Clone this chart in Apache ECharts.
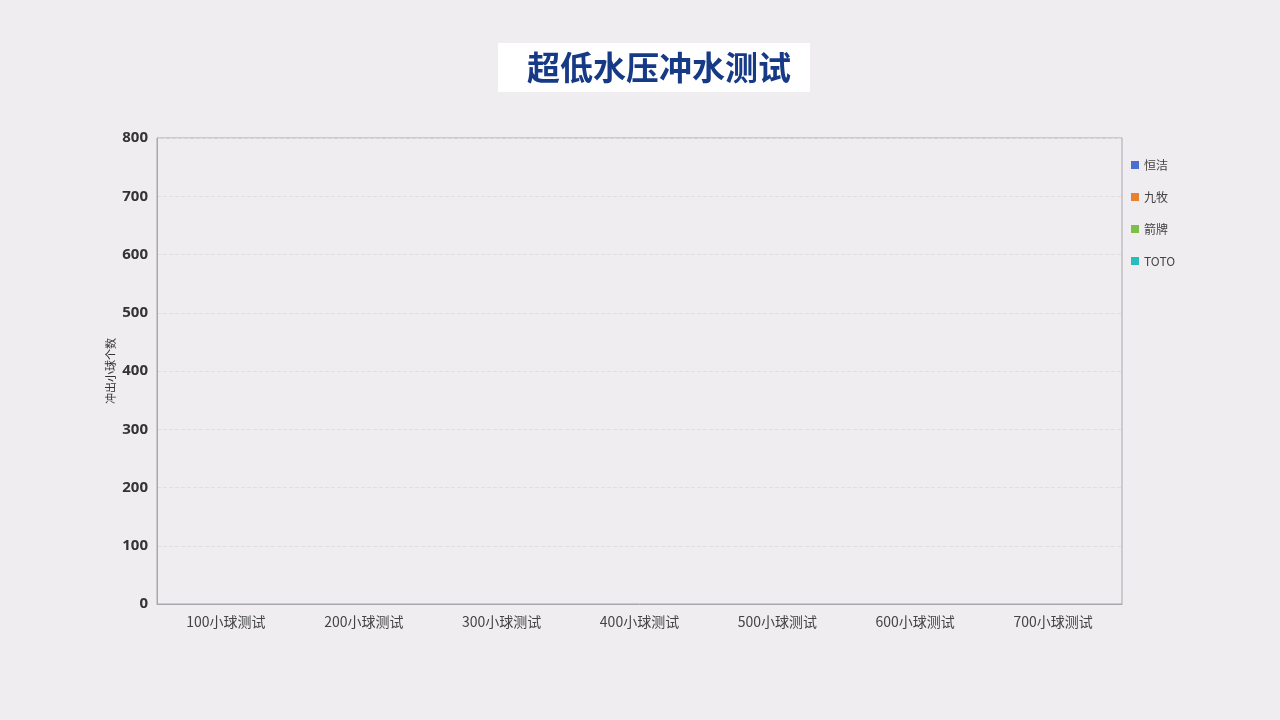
<!DOCTYPE html>
<html>
<head>
<meta charset="utf-8">
<script src="https://cdn.jsdelivr.net/npm/echarts@6/dist/echarts.min.js"></script>
<style>
  html, body { margin: 0; padding: 0; background: #efedf0; }
  #main { width: 1280px; height: 720px; }
</style>
</head>
<body>
<div id="main"></div>
<script>
var categories = ['100小球测试', '200小球测试', '300小球测试', '400小球测试', '500小球测试', '600小球测试', '700小球测试'];
var brands = ['恒洁', '九牧', '箭牌', 'TOTO'];
// 图里看不到柱子，都按0
var hengjie = [0, 0, 0, 0, 0, 0, 0];
var jiumu = [0, 0, 0, 0, 0, 0, 0];
var jianpai = [0, 0, 0, 0, 0, 0, 0];
var toto = [0, 0, 0, 0, 0, 0, 0];
var colors = ['#4a6fd0', '#e8812f', '#7cc04a', '#29bdb9'];

var myChart = echarts.init(document.getElementById('main'));
var values = [hengjie, jiumu, jianpai, toto];
var series = [];
for (var i = 0; i < brands.length; i++) {
    series.push({
        name: brands[i],
        type: 'bar',
        barGap: '10%',
        data: values[i],
        itemStyle: { color: colors[i] }
    });
}

var option = {
    backgroundColor: '#efedf0',
    animation: false,
    title: {
        text: '超低水压冲水测试',
        left: 498,
        top: 43,
        backgroundColor: '#ffffff',
        padding: [8, 19, 8, 29],
        textStyle: {
            fontSize: 33,
            fontWeight: 'bold',
            color: '#163a86',
            fontFamily: 'Noto Sans CJK SC'
        }
    },
    // y轴名称，单独放位置
    graphic: [{
        type: 'text',
        x: 111,
        y: 371,
        rotation: Math.PI / 2,
        style: {
            text: '冲出小球个数',
            fill: '#333',
            fontSize: 11,
            fontFamily: 'Noto Sans CJK SC',
            align: 'center',
            verticalAlign: 'middle'
        }
    }],
    legend: {
        orient: 'vertical',
        left: 1126,
        top: 154,
        itemWidth: 8,
        itemHeight: 8,
        itemGap: 20,
        icon: 'rect',
        data: brands,
        textStyle: { fontSize: 12, color: '#444', fontFamily: 'Noto Sans CJK SC' }
    },
    grid: {
        left: 157,
        right: 158,
        top: 138,
        bottom: 116,
        show: true,
        borderColor: '#a9a7ab',
        borderWidth: 1
    },
    xAxis: {
        type: 'category',
        data: categories,
        axisLine: { lineStyle: { color: '#a9a7ab' } },
        axisTick: { show: false },
        axisLabel: { fontSize: 14, color: '#444', margin: 11, fontFamily: 'Noto Sans CJK SC' }
    },
    yAxis: {
        type: 'value',
        min: 0,
        max: 800,
        interval: 100,
        axisLine: { show: true, lineStyle: { color: '#a9a7ab' } },
        axisTick: { show: false },
        axisLabel: { fontSize: 15, fontWeight: 'bold', color: '#333', margin: 9, fontFamily: 'Noto Sans' },
        splitLine: { lineStyle: { color: '#e0dee1', type: 'dashed' } }
    },
    series: series
};

myChart.setOption(option);
</script>
</body>
</html>
